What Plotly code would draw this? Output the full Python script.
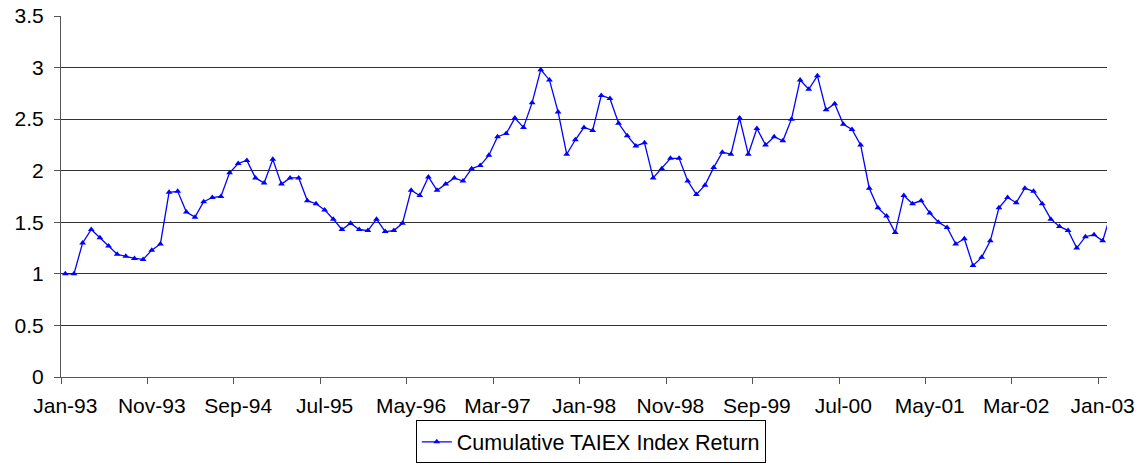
import plotly.graph_objects as go
import pandas as pd

# Monthly categories Jan-93 .. Feb-03
months = [d.strftime("%b-%y") for d in pd.date_range("1993-01-01", "2003-02-01", freq="MS")]

cumulative_return = [
    1.00, 1.00, 1.30, 1.43, 1.35, 1.27, 1.19, 1.17, 1.15, 1.14,
    1.23, 1.29, 1.79, 1.80, 1.60, 1.55, 1.70, 1.74, 1.75, 1.98,
    2.07, 2.10, 1.93, 1.88, 2.11, 1.87, 1.93, 1.93, 1.71, 1.68,
    1.62, 1.53, 1.43, 1.49, 1.43, 1.42, 1.53, 1.41, 1.42, 1.49,
    1.81, 1.76, 1.94, 1.81, 1.87, 1.93, 1.90, 2.02, 2.05, 2.15,
    2.33, 2.36, 2.51, 2.42, 2.66, 2.98, 2.88, 2.57, 2.16, 2.30,
    2.42, 2.39, 2.73, 2.70, 2.46, 2.34, 2.24, 2.27, 1.93, 2.02,
    2.12, 2.12, 1.90, 1.77, 1.86, 2.03, 2.18, 2.16, 2.51, 2.16,
    2.41, 2.25, 2.33, 2.29, 2.50, 2.88, 2.79, 2.92, 2.59, 2.65,
    2.45, 2.40, 2.25, 1.83, 1.64, 1.56, 1.40, 1.76, 1.68, 1.71,
    1.59, 1.50, 1.45, 1.29, 1.34, 1.08, 1.16, 1.32, 1.64, 1.74,
    1.69, 1.83, 1.80, 1.68, 1.53, 1.46, 1.42, 1.25, 1.36, 1.38,
    1.32, 1.60,
]

y_ticks = [0, 0.5, 1, 1.5, 2, 2.5, 3, 3.5]
y_ticktext = ["0", "0.5", "1", "1.5", "2", "2.5", "3", "3.5"]

FONT = "Liberation Sans, Arial, sans-serif"
FS = 21

fig = go.Figure()
fig.add_trace(go.Scatter(
    x=months,
    y=cumulative_return,
    mode="lines+markers",
    name="Cumulative TAIEX Index Return",
    line=dict(color="#0000FF", width=1.3),
    marker=dict(symbol="triangle-up", size=6, color="#0000FF"),
))

fig.update_layout(
    width=1148, height=466,
    margin=dict(l=61, r=41, t=16, b=89, autoexpand=False),
    paper_bgcolor="white", plot_bgcolor="white",
    font=dict(family=FONT, size=FS, color="black"),
    showlegend=True,
    legend=dict(
        orientation="h",
        x=0.5065, xanchor="center",
        y=-0.12, yanchor="top",
        bordercolor="black", borderwidth=1,
        font=dict(family=FONT, size=21.5, color="black"),
        itemwidth=30,
        tracegroupgap=0,
    ),
)

fig.update_xaxes(
    type="category",
    range=[-0.5, 120.5],
    tickmode="linear", tick0=0, dtick=10,
    tickson="boundaries",
    tickangle=0,
    automargin=False,
    ticklabeloverflow="allow",
    ticks="outside", ticklen=6, tickcolor="#555", tickwidth=1,
    ticklabelstandoff=10,
    showline=True, linecolor="#555", linewidth=1,
    showgrid=False, zeroline=False,
    tickfont=dict(family=FONT, size=FS, color="black"),
)
fig.update_yaxes(
    range=[0, 3.5],
    tickmode="array", tickvals=y_ticks, ticktext=y_ticktext,
    automargin=False,
    ticklabeloverflow="allow",
    ticks="outside", ticklen=6, tickcolor="#555", tickwidth=1,
    ticklabelstandoff=6,
    showline=True, linecolor="#555", linewidth=1,
    showgrid=True, gridcolor="#333", gridwidth=1,
    zeroline=False,
    tickfont=dict(family=FONT, size=FS, color="black"),
)

# remove the browser's default 8px body margin so the figure fills the window
fig.write_html(
    "out.html",
    config={"displayModeBar": False},
    post_script="document.body.style.margin='0';",
)
